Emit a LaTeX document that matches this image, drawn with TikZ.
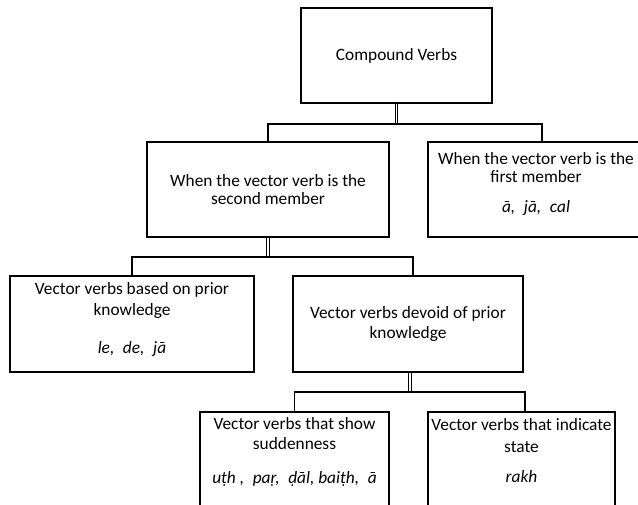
\documentclass[tikz,border=0pt]{standalone}
\usepackage{fontspec}
\setmainfont{Carlito}
\begin{document}
\begin{tikzpicture}[x=0.75pt,y=-0.75pt
	,box/.style={rectangle, draw, line width=1.2pt, align=center, inner sep=0pt, font=\fontsize{13}{14.5}\selectfont}
	,bus/.style={line width=1.1pt}
	,dbl/.style={line width=0.7pt, double, double distance=1.3pt}
]
\useasboundingbox (0,0) rectangle (638,504);
\clip (0,0) rectangle (638,504);

% boxes
\node[box, minimum width=143.3pt, minimum height=71.3pt] (cv) at (396.5,55.5) {Compound Verbs};
\node[box, minimum width=181.5pt, minimum height=71.3pt] (second) at (268,189.5)
	{When the vector verb is the\\[-1pt] second member};
\node[box, minimum width=162pt, minimum height=71.3pt, text depth=10pt] (first) at (536,189.5)
	{When the vector verb is the\\[-1pt] first member\\[8pt] \textit{ā,\enspace jā,\enspace cal}};
\node[box, minimum width=183pt, minimum height=72pt, text depth=9pt] (prior) at (132,324)
	{Vector verbs based on prior\\[1.2pt] knowledge\\[14pt] \textit{le,\enspace de,\enspace jā}};
\node[box, minimum width=172.5pt, minimum height=72pt] (devoid) at (408,324)
	{Vector verbs devoid of prior\\ knowledge};
\node[box, anchor=north, minimum width=141.8pt, inner ysep=4pt, text depth=60pt] (sudden) at (294.5,411)
	{Vector verbs that show\\[0.5pt] suddenness\\[11pt] \textit{uṭh ,\enspace paṛ,\enspace ḍāl, baiṭh,\enspace ā}};
\node[box, anchor=north, minimum width=140pt, inner ysep=5pt, text depth=60pt] (state) at (521.5,411)
	{Vector verbs that indicate\\[2pt] state\\[8pt] \textit{rakh}};

% connectors
\coordinate (b1) at (0,124);
\coordinate (b2) at (0,257);
\coordinate (b3) at (0,392);

\draw[dbl] (cv.south) -- (cv.south |- b1);
\draw[bus] (second.north) -- (second.north |- b1) -| ([xshift=4.5pt]first.north);

\draw[dbl] (second.south) -- (second.south |- b2);
\draw[bus] (prior.north) -- (prior.north |- b2) -| ([xshift=3.8pt]devoid.north);

\draw[dbl] ([xshift=1.5pt]devoid.south) -- ([xshift=1.5pt]devoid.south |- b3);
\draw[bus] (sudden.north) -- (sudden.north |- b3) -| ([xshift=2.6pt]state.north);
\end{tikzpicture}
\end{document}
